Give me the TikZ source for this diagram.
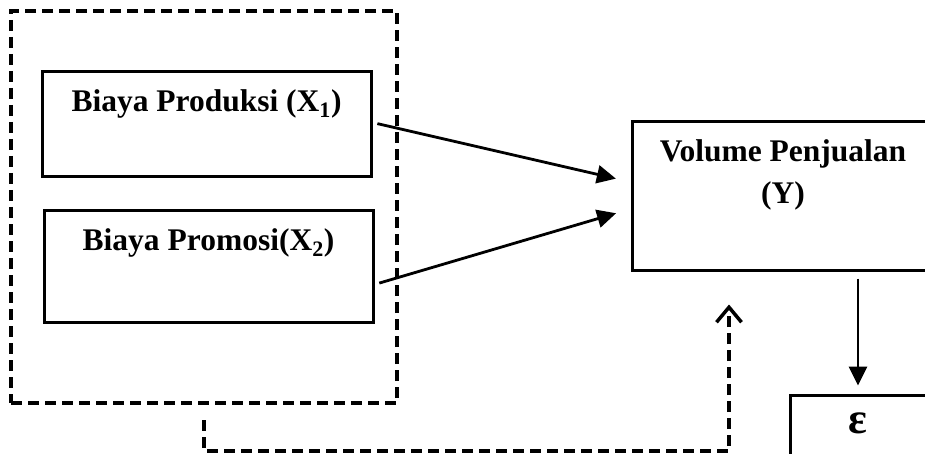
\documentclass[tikz,border=0pt]{standalone}
\usepackage{fontspec}
\setmainfont{Liberation Serif}
\usetikzlibrary{arrows.meta}

\begin{document}
\begin{tikzpicture}[x=1pt,y=-1pt,
  font=\fontsize{31.5}{42}\selectfont\bfseries,
  box/.style={draw,line width=3pt,rectangle,inner sep=0pt},
  arr/.style={line width=2.8pt,-{Triangle[length=19pt,width=18pt]}},
  feedback/.style={line width=4pt,dash pattern=on 11pt off 6pt,
    -{Straight Barb[length=15pt,width=25pt,line width=3.5pt]}}]
  \clip (0,0) rectangle (925,454);
  % independent variables inside the dashed group
  \node[box,dash pattern=on 11pt off 6pt,line width=4pt,
    minimum width=386pt,minimum height=392pt] (grp) at (204,207) {};
  \node[box,minimum width=329pt,minimum height=105pt,
    label={[anchor=base,yshift=-41pt]north:Biaya Produksi (X\textsubscript{1})}]
    (x1) at (206.5,124.5) {};
  \node[box,minimum width=329pt,minimum height=111pt,
    label={[anchor=base,yshift=-41pt]north:Biaya Promosi(X\textsubscript{2})}]
    (x2) at (208.5,266.5) {};
  % dependent variable and error term
  \node[box,minimum width=302pt,minimum height=148pt,
    label={[anchor=base,yshift=-83pt,align=center]north:Volume Penjualan\\(Y)}]
    (y) at (783,196) {};
  \node[box,minimum width=136pt,minimum height=100pt,
    label={[anchor=base,yshift=-40pt,font=\fontsize{44}{50}\selectfont\bfseries]north:ε}]
    (eps) at (858,445) {};

  \draw[arr,shorten <=5pt,shorten >=15pt] ([yshift=2pt]x1.east) -- ([yshift=14pt]y.west);
  \draw[arr,shorten <=5pt,shorten >=15pt] ([yshift=-18pt]x2.east) -- ([yshift=-13pt]y.west);
  \draw[arr,shorten <=7pt,shorten >=8pt] (y.south -| eps.north) -- (eps.north);
  \draw[feedback] ([yshift=-15pt]grp.south) -- ++(0,31)
    -| ([xshift=-54pt,yshift=-33pt]y.south);
\end{tikzpicture}
\end{document}
